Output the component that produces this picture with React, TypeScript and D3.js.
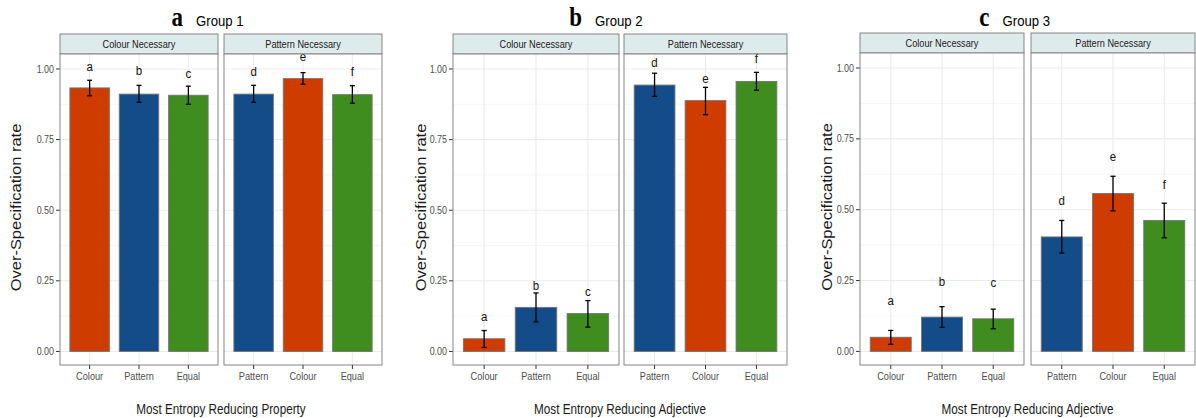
import * as d3 from "d3";

// facet / group labels
const groupNames = ["Group 1", "Group 2", "Group 3"];
const groupLetters = ["a", "b", "c"];
const xTitles = [
  "Most Entropy Reducing Property",
  "Most Entropy Reducing Adjective",
  "Most Entropy Reducing Adjective",
];
const panelNames = ["Colour Necessary", "Pattern Necessary"];
const categories = [
  ["Colour", "Pattern", "Equal"],
  ["Pattern", "Colour", "Equal"],
];
const sigLetters = [
  ["a", "b", "c"],
  ["d", "e", "f"],
];
const yTicks = [0, 0.25, 0.5, 0.75, 1];
const yMinor = [0.125, 0.375, 0.625, 0.875];

// over-specification rate per group [panel][category]
const rate1 = [[0.933, 0.911, 0.907], [0.911, 0.966, 0.909]];
const lower1 = [[0.905, 0.882, 0.875], [0.882, 0.946, 0.879]];
const upper1 = [[0.96, 0.942, 0.939], [0.942, 0.987, 0.941]];
const label1 = [[0.994, 0.979, 0.967], [0.975, 1.028, 0.975]];

const rate2 = [[0.045, 0.156, 0.134], [0.943, 0.888, 0.956]];
const lower2 = [[0.014, 0.105, 0.086], [0.903, 0.838, 0.925]];
const upper2 = [[0.074, 0.207, 0.18], [0.985, 0.935, 0.988]];
const label2 = [[0.108, 0.218, 0.197], [1.008, 0.949, 1.02]];

const rate3 = [[0.05, 0.121, 0.115], [0.404, 0.557, 0.462]];
const lower3 = [[0.025, 0.085, 0.08], [0.347, 0.496, 0.401]];
const upper3 = [[0.074, 0.158, 0.149], [0.462, 0.618, 0.523]];
const label3 = [[0.162, 0.232, 0.226], [0.515, 0.671, 0.574]];

const rates = [rate1, rate2, rate3];
const lowers = [lower1, lower2, lower3];
const uppers = [upper1, upper2, upper3];
const labels = [label1, label2, label3];

const COLORS: Record<string, string> = {
  Colour: "#cf3c00",
  Pattern: "#134c89",
  Equal: "#3e8d1e",
};

// pixel layout of the three plots
const LAYOUT = [
  { left: 60, split: [218, 224], right: 382, top: 54, yTitleX: 21 },
  { left: 453, split: [619, 624], right: 787, top: 54, yTitleX: 426 },
  { left: 860, split: [1024, 1031], right: 1195, top: 53, yTitleX: 832 },
];
const BOTTOM = 365;
const STRIP_H = 20;
const SX = 0.85; // the reference text is horizontally condensed
const FONT = "'Liberation Sans', Arial, sans-serif";
const BORDER = "#858585";

function T(props: {
  x: number; y: number; size: number; text: string;
  anchor?: string; fill?: string; rotate?: boolean; weight?: string; family?: string;
}) {
  const { x, y, size, text, anchor = "middle", fill = "#1a1a1a", rotate, weight, family } = props;
  return (
    <text
      transform={`translate(${x},${y}) scale(${SX},1)${rotate ? " rotate(-90)" : ""}`}
      fontSize={size}
      textAnchor={anchor}
      fill={fill}
      fontWeight={weight}
      fontFamily={family ?? FONT}
    >
      {text}
    </text>
  );
}

function Group({ g }: { g: number }) {
  const L = LAYOUT[g];
  const y = d3.scaleLinear().domain([-0.048, 1.053]).range([BOTTOM, L.top]);
  const panelX = [
    [L.left, L.split[0]],
    [L.split[1], L.right],
  ];
  const center = (L.left + L.right) / 2;

  return (
    <g>
      {/* title */}
      <T x={center - 38} y={26} size={27} text={groupLetters[g]} anchor="end" fill="#000" weight="bold" family="'Liberation Serif', 'Times New Roman', serif" />
      <T x={center - 25} y={26} size={15.5} text={groupNames[g]} anchor="start" fill="#000" />

      {/* y axis */}
      {yTicks.map((t) => (
        <g key={t}>
          <line x1={L.left - 4} x2={L.left} y1={y(t)} y2={y(t)} stroke="#333" strokeWidth={1} />
          <T x={L.left - 6} y={y(t) + 3.6} size={10.5} text={d3.format(".2f")(t)} anchor="end" fill="#4d4d4d" />
        </g>
      ))}
      <T x={L.yTitleX} y={(L.top + BOTTOM) / 2 - 2} size={16.5} text="Over-Specification rate" rotate />

      {panelX.map(([x0, x1], p) => {
        const x = d3.scalePoint<string>().domain(categories[p]).range([x0, x1]).padding(0.6);
        const step = x.step();
        const bw = step * 0.8;
        const cw = step * 0.05;
        const clipId = `clip-${g}-${p}`;
        return (
          <g key={p}>
            <clipPath id={clipId}>
              <rect x={x0} y={L.top} width={x1 - x0} height={BOTTOM - L.top} />
            </clipPath>
            {/* strip */}
            <rect x={x0} y={L.top - STRIP_H} width={x1 - x0} height={STRIP_H} fill="#deebed" stroke={BORDER} strokeWidth={1} />
            <T x={(x0 + x1) / 2} y={L.top - STRIP_H / 2 + 3.8} size={10.8} text={panelNames[p]} />
            {/* panel */}
            <rect x={x0} y={L.top} width={x1 - x0} height={BOTTOM - L.top} fill="#fff" />
            <g clipPath={`url(#${clipId})`}>
              {yMinor.map((t) => (
                <line key={t} x1={x0} x2={x1} y1={y(t)} y2={y(t)} stroke="#f0f0f0" strokeWidth={0.6} />
              ))}
              {yTicks.map((t) => (
                <line key={t} x1={x0} x2={x1} y1={y(t)} y2={y(t)} stroke="#ebebeb" strokeWidth={1.1} />
              ))}
              {categories[p].map((c) => (
                <line key={c} x1={x(c)!} x2={x(c)!} y1={L.top} y2={BOTTOM} stroke="#ebebeb" strokeWidth={1.1} />
              ))}
              {categories[p].map((c, i) => {
                const cx = x(c)!;
                const v = rates[g][p][i];
                const lo = lowers[g][p][i];
                const hi = uppers[g][p][i];
                return (
                  <g key={c}>
                    <rect x={cx - bw / 2} y={y(v)} width={bw} height={y(0) - y(v)} fill={COLORS[c]} stroke="#757575" strokeWidth={0.9} />
                    <line x1={cx} x2={cx} y1={y(lo)} y2={y(hi)} stroke="#000" strokeWidth={1.3} />
                    <line x1={cx - cw} x2={cx + cw} y1={y(lo)} y2={y(lo)} stroke="#000" strokeWidth={1.3} />
                    <line x1={cx - cw} x2={cx + cw} y1={y(hi)} y2={y(hi)} stroke="#000" strokeWidth={1.3} />
                    <T x={cx} y={y(labels[g][p][i])} size={13.5} text={sigLetters[p][i]} fill="#111" />
                  </g>
                );
              })}
            </g>
            <rect x={x0} y={L.top} width={x1 - x0} height={BOTTOM - L.top} fill="none" stroke={BORDER} strokeWidth={1} />
            {/* x axis */}
            {categories[p].map((c) => (
              <g key={c}>
                <line x1={x(c)!} x2={x(c)!} y1={BOTTOM} y2={BOTTOM + 4} stroke="#333" strokeWidth={1} />
                <T x={x(c)!} y={BOTTOM + 15} size={10.8} text={c} fill="#4d4d4d" />
              </g>
            ))}
          </g>
        );
      })}
      <T x={center} y={414} size={13.8} text={xTitles[g]} />
    </g>
  );
}

export default function App() {
  return (
    <svg
      width={1196}
      height={418}
      style={{ position: "fixed", left: 0, top: 0, background: "#fff" }}
    >
      <rect width={1196} height={418} fill="#fff" />
      {[0, 1, 2].map((g) => (
        <Group key={g} g={g} />
      ))}
    </svg>
  );
}
